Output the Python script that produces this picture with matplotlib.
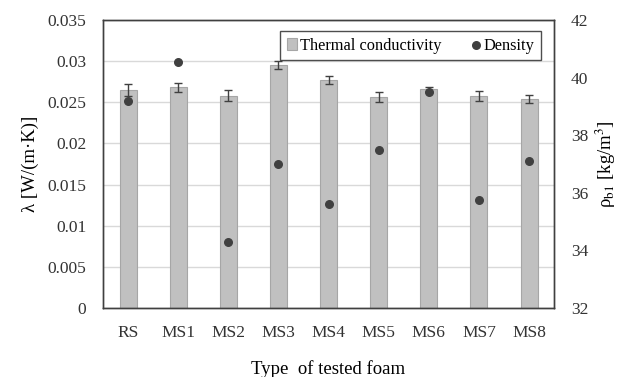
import numpy as np
import matplotlib.pyplot as plt

plt.rcParams['font.family'] = ['Liberation Serif', 'DejaVu Serif']
plt.rcParams['mathtext.fontset'] = 'stix'

foams = ['RS', 'MS1', 'MS2', 'MS3', 'MS4', 'MS5', 'MS6', 'MS7', 'MS8']
conductivity = [0.0265, 0.0268, 0.0258, 0.0295, 0.0277, 0.0256, 0.0266, 0.0258, 0.0254]
cond_err = [0.0007, 0.0005, 0.0007, 0.0005, 0.0005, 0.0006, 0.0003, 0.0006, 0.0005]
density = [39.2, 40.55, 34.3, 37.0, 35.6, 37.5, 39.5, 35.75, 37.1]

x = np.arange(len(foams))

fig = plt.figure(figsize=(6.24, 3.77), dpi=100)
ax = fig.add_axes([0.165, 0.183, 0.723, 0.764])
ax2 = ax.twinx()

ax.set_axisbelow(True)
ax.yaxis.grid(True, color='#d9d9d9', linewidth=1)
bars = ax.bar(x, conductivity, width=0.34, color='#c0c0c0', edgecolor='#a6a6a6',
              linewidth=0.8, yerr=cond_err, capsize=3,
              error_kw=dict(ecolor='#404040', elinewidth=1, capthick=1),
              label='Thermal conductivity', zorder=2)
ax.set_ylim(0, 0.035)
ax.set_yticks(np.arange(0, 0.0351, 0.005))
ax.set_yticklabels(['0', '0.005', '0.01', '0.015', '0.02', '0.025', '0.03', '0.035'])
ax.set_xlim(-0.5, len(foams) - 0.5)
ax.set_xticks(x)
ax.set_xticklabels(foams)

dots = ax2.scatter(x, density, s=30, color='#404040', zorder=3, label='Density')
ax2.set_ylim(32, 42)
ax2.set_yticks(np.arange(32, 43, 2))

for a in (ax, ax2):
    a.tick_params(length=0, labelsize=12.5, colors='#333333')
    for s in a.spines.values():
        s.set_color('#404040')
        s.set_linewidth(1)
ax.tick_params(axis='y', pad=12)
ax2.tick_params(axis='y', pad=12)
ax.tick_params(axis='x', pad=12)

ax.set_ylabel('λ [W/(m·K)]', fontsize=13.5, labelpad=6)
ax2.set_ylabel(r'ρ$_{\mathrm{b1}}$ [kg/m$^3$]', fontsize=13.5, labelpad=4)
ax.set_xlabel('Type  of tested foam', fontsize=13.5, labelpad=14)

leg = ax.legend([bars, dots], ['Thermal conductivity', 'Density'], loc='upper right',
                ncol=2, fontsize=11.8, frameon=True, fancybox=False, edgecolor='#222222',
                handlelength=0.6, handletextpad=0.2, columnspacing=1.8,
                borderpad=0.4, bbox_to_anchor=(0.99, 0.99))
leg.get_frame().set_linewidth(1)

fig.savefig('out.png', dpi=100)
